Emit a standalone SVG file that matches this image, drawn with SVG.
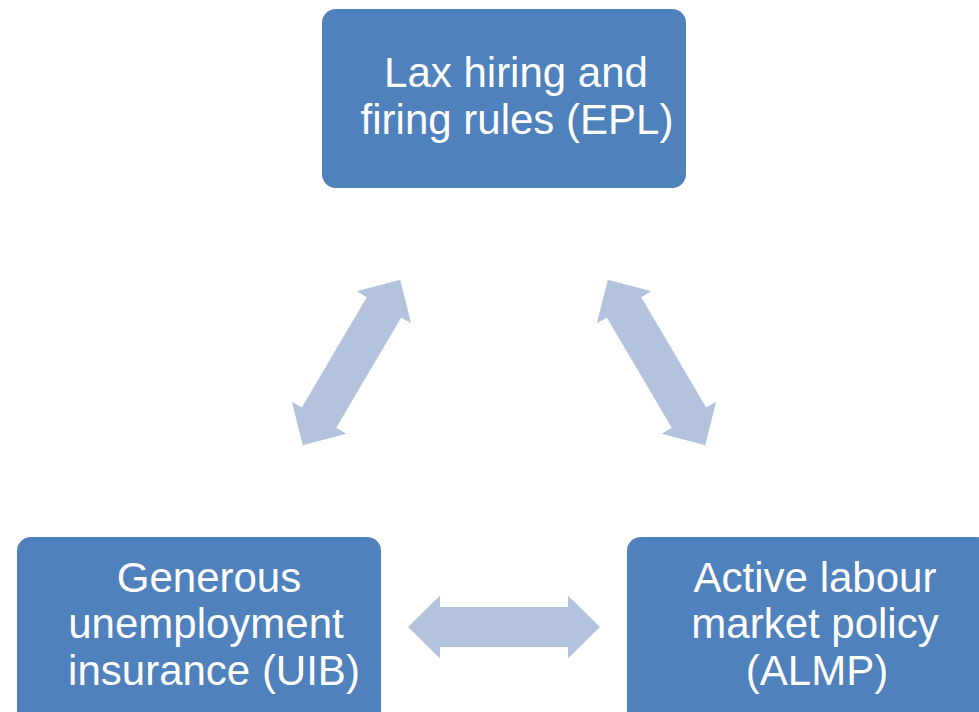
<svg xmlns="http://www.w3.org/2000/svg" width="979" height="712" viewBox="0 0 979 712">
<defs>
<style>
.box{fill:#4F81BD;}
.lbl{font-family:"Liberation Sans",Arial,sans-serif;font-size:42px;fill:#FFFFFF;text-anchor:middle;}
.arr{fill:#B3C3DE;}
</style>
<path id="dbl" d="M-96,0 L-64,-31.5 L-64,-20 L64,-20 L64,-31.5 L96,0 L64,31.5 L64,20 L-64,20 L-64,31.5 Z"/>
</defs>
<rect width="979" height="712" fill="#FFFFFF"/>
<g id="connectors">
<use href="#dbl" class="arr" transform="translate(351.5,362.5) rotate(-59.5)"/>
<use href="#dbl" class="arr" transform="translate(656.5,362.5) rotate(59.5)"/>
<use href="#dbl" class="arr" transform="translate(504,627)"/>
</g>
<g id="epl">
<rect class="box" x="322" y="9" width="364" height="179" rx="14"/>
<text class="lbl" x="516" y="87">Lax hiring and</text>
<text class="lbl" x="517" y="134">firing rules (EPL)</text>
</g>
<g id="uib">
<rect class="box" x="17" y="537" width="364" height="200" rx="14"/>
<text class="lbl" x="209" y="592">Generous</text>
<text class="lbl" x="206" y="638">unemployment</text>
<text class="lbl" x="214" y="685">insurance (UIB)</text>
</g>
<g id="almp">
<rect class="box" x="627" y="537" width="364" height="200" rx="14"/>
<text class="lbl" x="815" y="592">Active labour</text>
<text class="lbl" x="815" y="638">market policy</text>
<text class="lbl" x="817" y="685">(ALMP)</text>
</g>
</svg>
